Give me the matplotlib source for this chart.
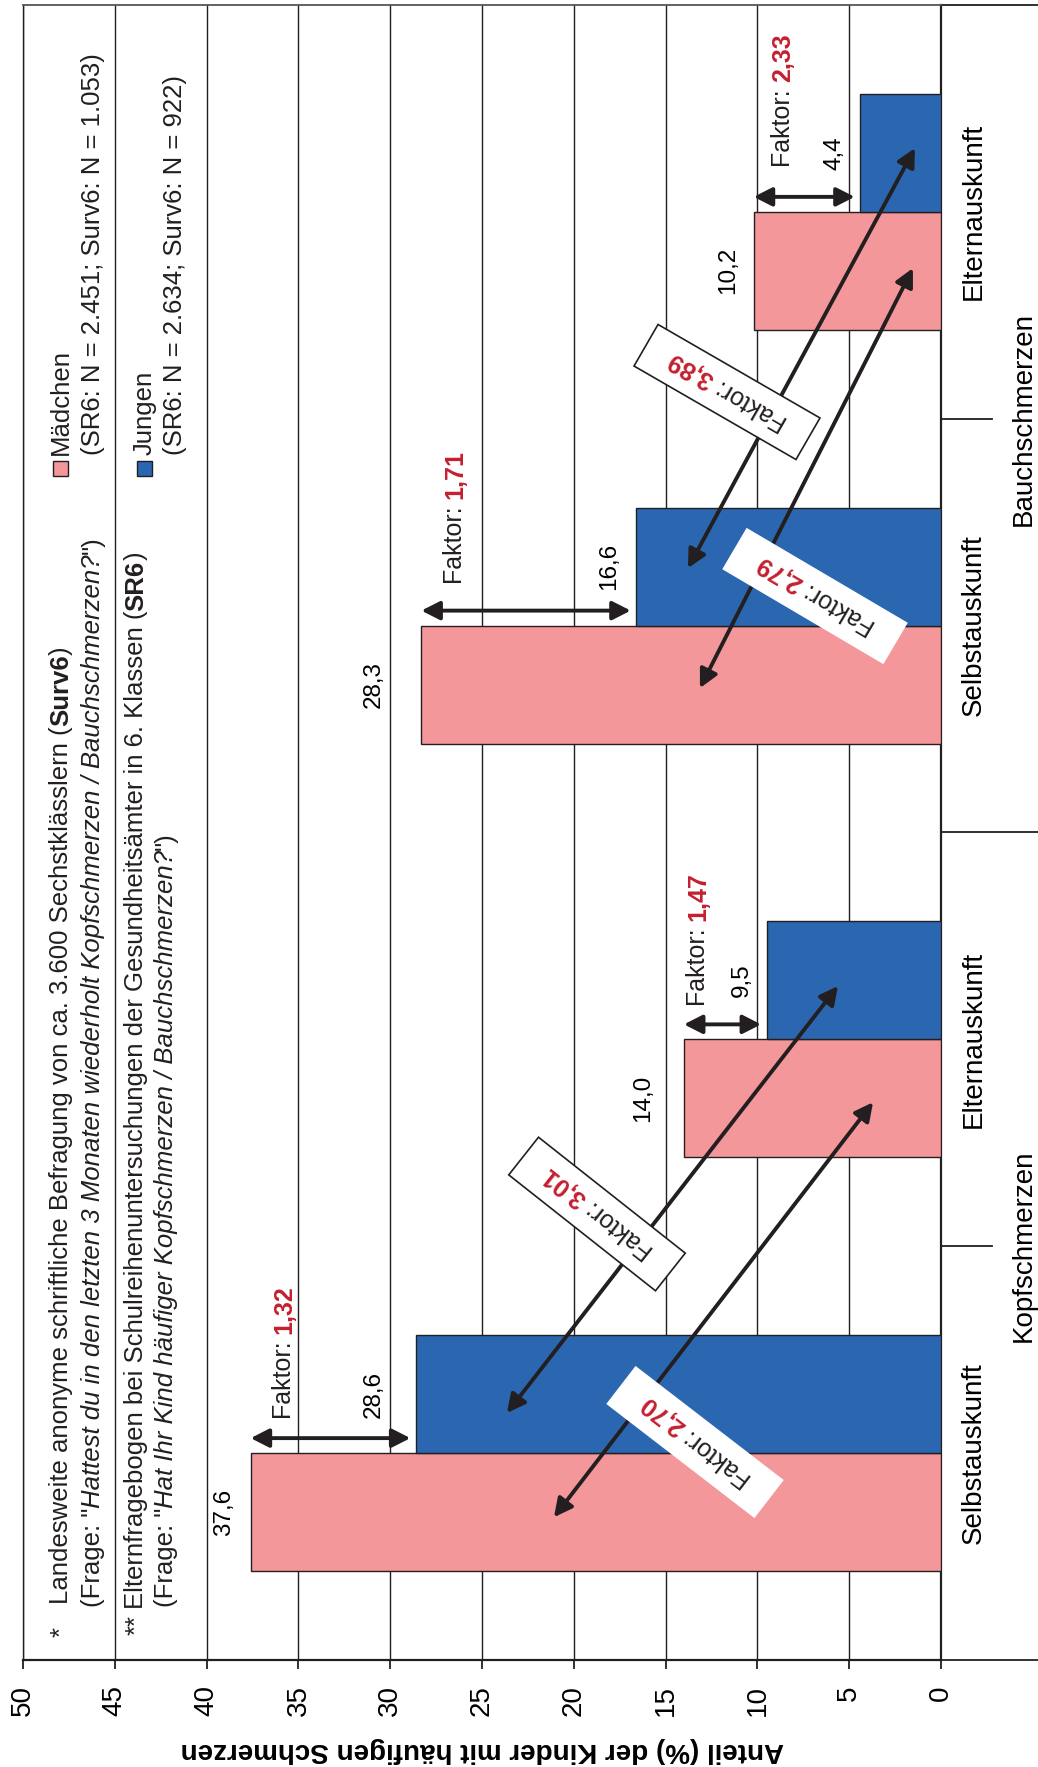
import numpy as np
import matplotlib
matplotlib.use('Agg')
from matplotlib import pyplot as plt
from matplotlib.patches import Rectangle
from matplotlib.lines import Line2D
from matplotlib.transforms import Affine2D, offset_copy, blended_transform_factory

plt.rcParams['font.family'] = ['Liberation Sans', 'DejaVu Sans']

# --- data (bottom to top: Kopf/Selbst, Kopf/Eltern, Bauch/Selbst, Bauch/Eltern)
categories = ['Selbstauskunft', 'Elternauskunft', 'Selbstauskunft', 'Elternauskunft']
groups = ['Kopfschmerzen', 'Bauchschmerzen']
maedchen = [37.6, 14.0, 28.3, 10.2]
jungen = [28.6, 9.5, 16.6, 4.4]
labels_m = ['37,6', '14,0', '28,3', '10,2']
labels_j = ['28,6', '9,5', '16,6', '4,4']
faktor_mj = ['1,32', '1,47', '1,71', '2,33']
faktor_se = ['2,70', '3,01', '2,79', '3,89']
ticks = list(range(0, 55, 5))

PINK = '#f4979a'
BLUE = '#2a67b0'
RED = '#c41f2f'
INK = '#231f20'

W, H = 1038, 1767
fig = plt.figure(figsize=(W / 100, H / 100), dpi=100)
PX = Affine2D().scale(1 / W, -1 / H).translate(0, 1) + fig.transFigure
renderer = fig.canvas.get_renderer()

ax = fig.add_axes([23 / W, (H - 1660) / H, 918 / W, 1655 / H])
pos = np.arange(len(categories))
bh = 118 / 413.75

ax.barh(pos - bh / 2, maedchen, height=bh, color=PINK, edgecolor=INK, lw=1.0, zorder=3)
ax.barh(pos + bh / 2, jungen, height=bh, color=BLUE, edgecolor=INK, lw=1.0, zorder=3)

ax.set_xlim(50, 0)
ax.set_ylim(-0.5, 3.5)
ax.set_xticks(ticks)
ax.set_xticklabels([str(t) for t in ticks])
ax.set_yticks([])
ax.grid(axis='x', color=INK, lw=1.0, zorder=0)
ax.tick_params(axis='x', direction='out', length=6.5, width=1.3, color=INK,
               pad=11.5, labelsize=20, labelrotation=90)
for side in ['bottom', 'right']:
    ax.spines[side].set_linewidth(1.6)
    ax.spines[side].set_color(INK)
ax.spines['left'].set_linewidth(1.0)
ax.spines['left'].set_color(INK)
ax.spines['top'].set_linewidth(1.3)
ax.spines['top'].set_color('#555555')

ax.set_xlabel('Anteil (%) der Kinder mit häufigen Schmerzen', rotation=180,
              fontsize=20, fontweight='bold')
ax.xaxis.label.set_va('center')
ax.xaxis.set_label_coords(0.5, (1660 - 1750) / 1655)

# category axis on the right
bt = blended_transform_factory(PX, ax.transData)
for i, c in enumerate(categories):
    ax.text(974, i, c, transform=bt, rotation=90, ha='center', va='center', fontsize=20)
for i, g in enumerate(groups):
    ax.text(1024, 2 * i + 0.5, g, transform=bt, rotation=90, ha='center', va='center', fontsize=20)
for yv, xe in [(0.5, 992), (2.5, 992), (1.5, 1038), (-0.5, 1038), (3.5, 1038)]:
    ax.add_line(Line2D([941, xe], [yv, yv], transform=bt, color=INK, lw=1.3, clip_on=False))

# value labels
gap_m = [16, 30, 37, 15]
gap_j = [31, 14, 16, 15]
for i in range(len(categories)):
    t = offset_copy(ax.transData, fig=fig, x=-gap_m[i], y=0, units='dots')
    ax.text(maedchen[i], pos[i] - bh / 2, labels_m[i], transform=t, rotation=90,
            ha='right', va='center', fontsize=17.5, zorder=6)
    t = offset_copy(ax.transData, fig=fig, x=-gap_j[i], y=0, units='dots')
    ax.text(jungen[i], pos[i] + bh / 2, labels_j[i], transform=t, rotation=90,
            ha='right', va='center', fontsize=17.5, zorder=6)

arrow_kw = dict(arrowstyle='<|-|>,head_length=0.55,head_width=0.28', mutation_scale=20,
                lw=2.8, color=INK, shrinkA=0, shrinkB=0)

# Faktor arrows between bars of one category
for i in range(len(categories)):
    yv = pos[i] + 15 / 413.75
    ax.annotate('', xy=(jungen[i] + 0.3, yv), xytext=(maedchen[i], yv),
                arrowprops=arrow_kw, zorder=5)

# diagonal arrows Selbst -> Eltern (value, category position)
diag = [((21.08, -0.155), (3.70, 0.848)),
        ((23.64, 0.097), (5.61, 1.129)),
        ((13.13, 1.849), (1.53, 2.864)),
        ((13.78, 2.139), (1.42, 3.154))]
for a, b in diag:
    ax.annotate('', xy=b, xytext=a, arrowprops=arrow_kw, zorder=5)


def text_width(s, **kw):
    t1 = fig.text(0, 0, 'I' + s + 'I', **kw)
    t2 = fig.text(0, 0, 'II', **kw)
    w = t1.get_window_extent(renderer).width - t2.get_window_extent(renderer).width
    t1.remove()
    t2.remove()
    return w


def rich(x, y, parts, angle=90, size=18.5, center=False, zorder=7):
    th = np.deg2rad(angle)
    d = np.array([np.cos(th), -np.sin(th)])
    up = np.array([-np.sin(th), -np.cos(th)])
    widths = [text_width(s, fontsize=size, **kw) for s, kw in parts]
    p = np.array([x, y], dtype=float)
    if center:
        cap = 0.716 * size * 100 / 72
        p = p - d * sum(widths) / 2 - up * cap / 2
    for (s, kw), w in zip(parts, widths):
        fig.text(p[0], p[1], s, transform=PX, rotation=angle, rotation_mode='anchor',
                 ha='left', va='baseline', fontsize=size, color=kw.pop('color', INK),
                 zorder=zorder, **kw)
        p = p + d * w


B = {'fontweight': 'bold'}
I = {'fontstyle': 'italic'}

# Faktor labels (girls vs boys)
faktor_pos = [(291, 1419), (705, 1006), (462, 584), (790, 167)]
for (x, y), f in zip(faktor_pos, faktor_mj):
    rich(x, y, [('Faktor: ', {}), (f, {'fontweight': 'bold', 'color': RED})], size=18)

# boxed Faktor labels (Selbst vs Eltern)
boxes = [((695, 1442), 142.4, False), ((597, 1214), 141.7, True),
         ((815, 596), 149.5, False), ((727, 392), 150.0, True)]
for ((cx, cy), ang, border), f in zip(boxes, faktor_se):
    L, Hb = 187, 48
    rect = Rectangle((cx - L / 2, cy - Hb / 2), L, Hb, facecolor='white',
                     edgecolor=INK if border else 'none', lw=1.2,
                     transform=Affine2D().rotate_deg_around(cx, cy, -ang) + PX, zorder=6)
    fig.add_artist(rect)
    rich(cx, cy, [('Faktor: ', {}), (f, {'fontweight': 'bold', 'color': RED})],
         angle=ang, size=18, center=True)

# notes
fig.text(68, 1637, '*', transform=PX, rotation=90, rotation_mode='anchor',
         ha='left', va='baseline', fontsize=18.5, color=INK)
rich(68, 1604, [('Landesweite anonyme schriftliche Befragung von ca. 3.600 Sechstklässlern (', {}),
                ('Surv6', dict(B)), (')', {})])
rich(100, 1607, [('(Frage: "', {}),
                 ('Hattest du in den letzten 3 Monaten wiederholt Kopfschmerzen / Bauchschmerzen?', dict(I)),
                 ('")', {})])
fig.text(143, 1635, '**', transform=PX, rotation=90, rotation_mode='anchor',
         ha='left', va='baseline', fontsize=18.5, color=INK)
rich(143, 1609, [('Elternfragebogen bei Schulreihenuntersuchungen der Gesundheitsämter in 6. Klassen (', {}),
                 ('SR6', dict(B)), (')', {})])
rich(173, 1607, [('(Frage: "', {}),
                 ('Hat Ihr Kind häufiger Kopfschmerzen / Bauchschmerzen?', dict(I)),
                 ('")', {})])

# legend
for x0, col in [(53, PINK), (137, BLUE)]:
    fig.add_artist(Rectangle((x0, 461), 15, 15, facecolor=col, edgecolor=INK, lw=1.0,
                             transform=PX, zorder=7))
rich(68, 455, [('Mädchen', {})])
rich(100, 455, [('(SR6: N = 2.451; Surv6: N = 1.053)', {})])
rich(152, 455, [('Jungen', {})])
rich(182, 455, [('(SR6: N = 2.634; Surv6: N = 922)', {})])

fig.savefig('out.png', dpi=100)
